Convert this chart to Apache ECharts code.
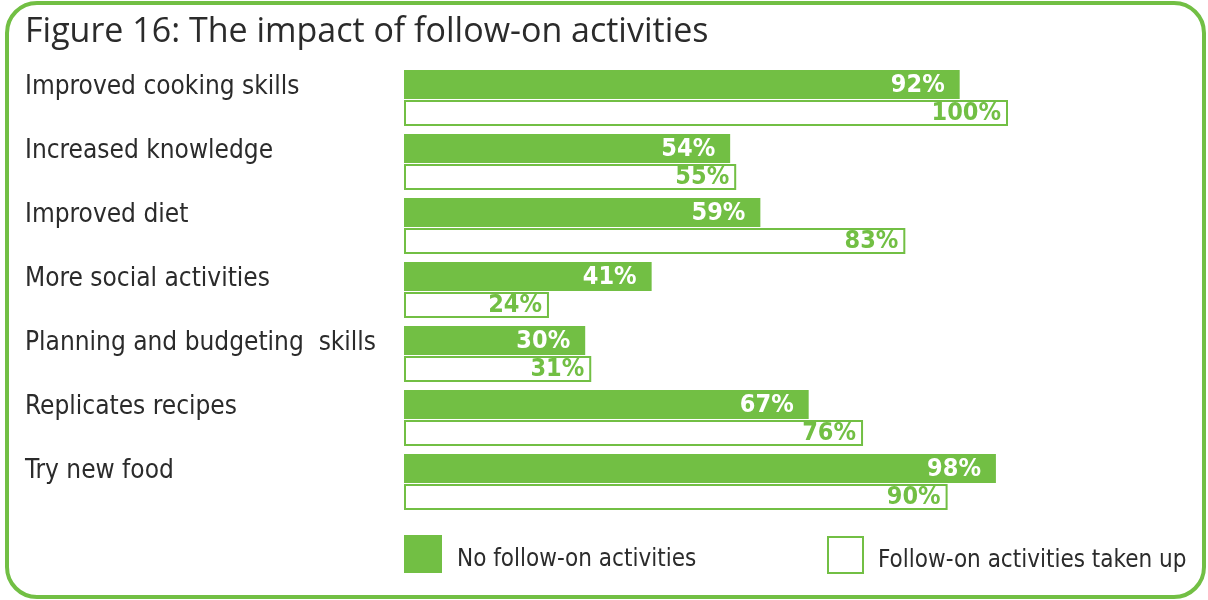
<!DOCTYPE html>
<html>
<head>
<meta charset="utf-8">
<script src="https://cdn.jsdelivr.net/npm/echarts@6/dist/echarts.min.js"></script>
<style>
  html, body { margin: 0; padding: 0; background: #fff; }
  #chart { width: 1208px; height: 600px; }
</style>
</head>
<body>
<div id="chart"></div>
<script>
// Outcomes reported, in display order (top to bottom)
const categories = [
  'Improved cooking skills',
  'Increased knowledge',
  'Improved diet',
  'More social activities',
  'Planning and budgeting  skills',
  'Replicates recipes',
  'Try new food'
];
// Percentage of respondents reporting each outcome
const noFollowOn = [92, 54, 59, 41, 30, 67, 98];
const followOnTaken = [100, 55, 83, 24, 31, 76, 90];
const seriesNames = ['No follow-on activities', 'Follow-on activities taken up'];
const titleText = 'Figure 16: The impact of follow-on activities';

const GREEN = '#72bf44';
const NARROW = "'Liberation Sans Narrow', 'DejaVu Sans Condensed', sans-serif";

// Legend entry text, pushed a little below the icon's middle
const legendText = {
  formatter: name => '{t|' + name + '}',
  textStyle: {
    rich: {
      t: { fontFamily: NARROW, fontSize: 24, color: '#2b2b2b', padding: [12, 0, 0, 10] }
    }
  }
};

const chart = echarts.init(document.getElementById('chart'));
chart.setOption({
  backgroundColor: '#fff',
  animation: false,
  title: {
    text: titleText,
    left: 20,
    top: 10,
    textStyle: {
      fontFamily: "'Open Sans', sans-serif",
      fontWeight: 'normal',
      fontSize: 34,
      color: '#2b2b2b'
    }
  },
  graphic: [{
    type: 'rect',
    shape: { x: 7, y: 3, width: 1197, height: 594, r: 30 },
    style: { fill: 'none', stroke: GREEN, lineWidth: 4 },
    z: 10
  }],
  legend: [
    Object.assign({
      data: [{ name: seriesNames[0], itemStyle: { color: GREEN, borderWidth: 0 } }],
      left: 399, top: 530,
      itemWidth: 38, itemHeight: 38,
      icon: 'rect'
    }, legendText),
    Object.assign({
      data: [{ name: seriesNames[1], itemStyle: { color: '#fff', borderColor: GREEN, borderWidth: 2 } }],
      left: 822, top: 531,
      itemWidth: 35, itemHeight: 36,
      icon: 'rect'
    }, legendText)
  ],
  grid: { left: 404, right: 200, top: 66, height: 448 },
  xAxis: {
    type: 'value', min: 0, max: 100,
    show: false
  },
  yAxis: {
    type: 'category',
    data: categories,
    inverse: true,
    axisLine: { show: false },
    axisTick: { show: false },
    axisLabel: {
      align: 'left',
      verticalAlign: 'bottom',
      lineHeight: 21,
      margin: 379,
      fontFamily: NARROW,
      fontSize: 26,
      color: '#2b2b2b'
    }
  },
  series: [
    {
      name: seriesNames[0],
      type: 'bar',
      data: noFollowOn,
      barWidth: 29,
      barGap: '3%',
      itemStyle: { color: GREEN },
      label: {
        show: true,
        position: 'insideRight',
        distance: 15,
        offset: [0, 1],
        formatter: '{c}%',
        fontFamily: NARROW,
        fontWeight: 'bold',
        fontSize: 25,
        color: '#fff'
      }
    },
    {
      name: seriesNames[1],
      type: 'bar',
      data: followOnTaken,
      barWidth: 26,
      itemStyle: { color: '#fff', borderColor: GREEN, borderWidth: 2 },
      label: {
        show: true,
        position: 'insideRight',
        distance: 7,
        offset: [0, 1],
        formatter: '{c}%',
        fontFamily: NARROW,
        fontWeight: 'bold',
        fontSize: 25,
        color: GREEN
      }
    }
  ]
});
</script>
</body>
</html>
